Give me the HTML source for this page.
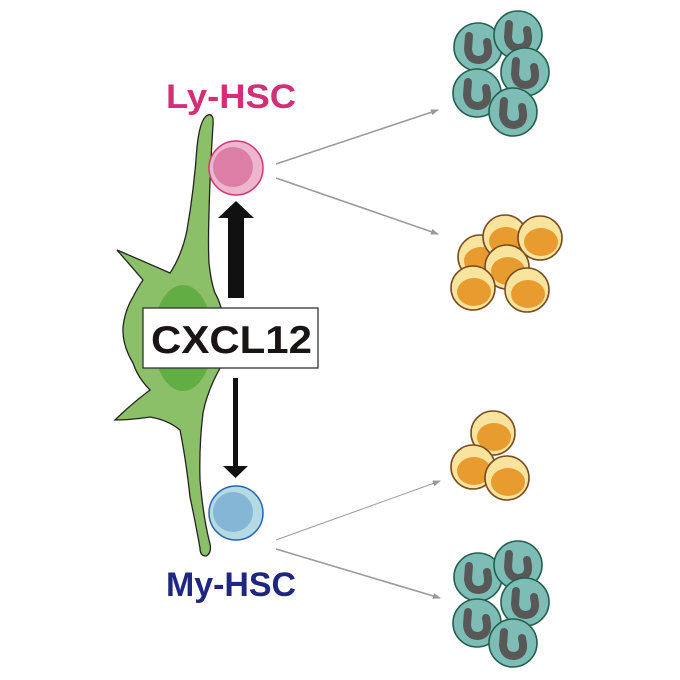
<!DOCTYPE html>
<html><head><style>body{margin:0;background:#fff}svg{display:block}</style></head><body>
<svg width="680" height="680" viewBox="0 0 680 680" xmlns="http://www.w3.org/2000/svg">
<defs>
<g id="t"><circle r="24" fill="#7dbdb5" stroke="#235f4d" stroke-width="1.6"/><path d="M-9,-11 L-10,2 Q-9,13 1,13 Q11,12 10,1 L9,-5" fill="none" stroke="#585858" stroke-width="8" stroke-linecap="round"/></g>
<g id="y"><circle r="22" fill="#f8e49c" stroke="#7a4b20" stroke-width="1.6"/><ellipse cx="1" cy="4" rx="17" ry="14" fill="#e89c30"/></g>
<marker id="a" markerWidth="8" markerHeight="6" refX="7" refY="3" orient="auto" markerUnits="userSpaceOnUse"><path d="M0,0 L8,3 L0,6z" fill="#999"/></marker>
</defs>
<g stroke="#9a9a9a" stroke-width="1.6" fill="none">
<line x1="276" y1="164" x2="438" y2="110" marker-end="url(#a)"/>
<line x1="276" y1="178" x2="438" y2="234" marker-end="url(#a)"/>
<line x1="276" y1="540" x2="440" y2="481" stroke-width="1" marker-end="url(#a)"/>
<line x1="276" y1="549" x2="440" y2="598" marker-end="url(#a)"/>
</g>
<path d="M208,115 Q214,113 213,125 Q210,170 209,213 Q208,245 209,263 Q211,282 215,293 Q222,305 226,330 Q229,355 219,370 Q207,392 203,413 Q199,445 200,480 Q203,515 209,540 Q213,553 206,556 Q200,556 200,548 Q195,520 190,497 Q186,460 180,430 Q168,420 150,417 Q130,420 115,420 Q130,405 150,390 Q138,378 133,363 Q122,345 123,327 Q125,310 133,297 Q138,287 143,280 Q130,265 117,250 Q145,262 170,273 Q182,255 187,230 Q194,190 197,147 Q200,118 208,115 Z" fill="#8cc068" stroke="#222" stroke-width="1.3"/>
<ellipse cx="183" cy="338" rx="30" ry="53" fill="#63ad45"/>
<circle cx="236" cy="168" r="27" fill="#ecb6cc" stroke="#d6337a" stroke-width="1.5"/>
<circle cx="233" cy="167" r="20" fill="#dc7ea5"/>
<circle cx="236" cy="513" r="27" fill="#b4dbe4" stroke="#2a65b0" stroke-width="1.5"/>
<circle cx="233" cy="512" r="20" fill="#86b6d6"/>
<rect x="228" y="216" width="16" height="82" fill="#111"/>
<path d="M218,218 L236,201 L254,218Z" fill="#111"/>
<rect x="233" y="378" width="5" height="92" fill="#111"/>
<path d="M223,466 L235.5,478 L248,466Z" fill="#111"/>
<rect x="143" y="308" width="175" height="60" fill="#fff" stroke="#333" stroke-width="1.3"/>
<text x="151" y="353" textLength="161" lengthAdjust="spacingAndGlyphs" font-family="Liberation Sans, sans-serif" font-weight="bold" font-size="39" fill="#1a1414">CXCL12</text>
<text x="166" y="108" textLength="130" lengthAdjust="spacingAndGlyphs" font-family="Liberation Sans, sans-serif" font-weight="bold" font-size="34" fill="#d32f79">Ly-HSC</text>
<text x="166" y="596" textLength="130" lengthAdjust="spacingAndGlyphs" font-family="Liberation Sans, sans-serif" font-weight="bold" font-size="34" fill="#1e2680">My-HSC</text>
<use href="#t" x="478" y="47"/><use href="#t" x="518" y="35"/><use href="#t" x="525" y="72"/><use href="#t" x="477" y="93"/><use href="#t" x="513" y="112"/>
<use href="#y" x="480" y="257"/><use href="#y" x="505" y="237"/><use href="#y" x="540" y="238"/><use href="#y" x="507" y="267"/><use href="#y" x="473" y="288"/><use href="#y" x="527" y="290"/>
<use href="#y" x="493" y="433"/><use href="#y" x="473" y="467"/><use href="#y" x="507" y="478"/>
<use href="#t" x="478" y="577"/><use href="#t" x="518" y="565"/><use href="#t" x="525" y="602"/><use href="#t" x="477" y="623"/><use href="#t" x="513" y="643"/>
</svg>
</body></html>
